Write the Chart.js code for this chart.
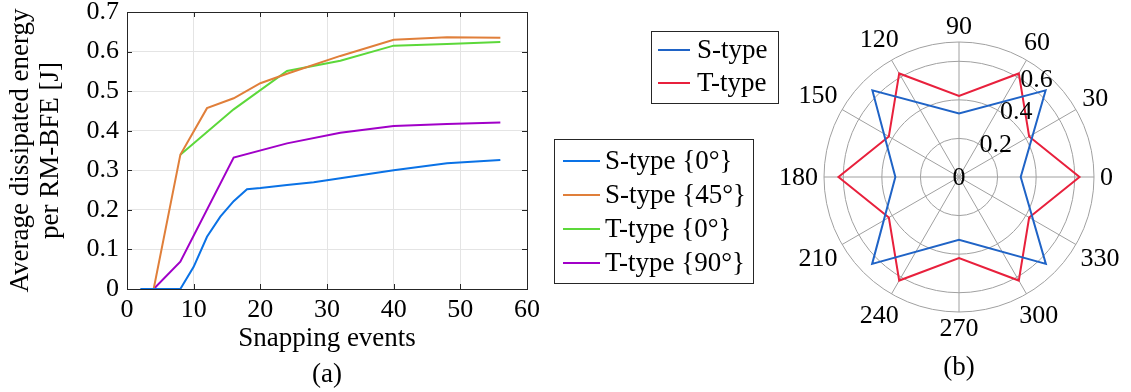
<!DOCTYPE html>
<html>
<head>
<meta charset="utf-8">
<script src="https://cdn.jsdelivr.net/npm/chart.js@4.4.1/dist/chart.umd.min.js"></script>
<style>
  html, body { margin: 0; padding: 0; background: #fff; }
  #wrap { position: relative; width: 1131px; height: 392px; overflow: hidden; }
  #chartA { position: absolute; left: 0; top: 0; }
  #chartB { position: absolute; left: 640px; top: 0; }
</style>
</head>
<body>
<div id="wrap">
  <canvas id="chartA" width="760" height="392"></canvas>
  <canvas id="chartB" width="491" height="392"></canvas>
</div>
<script>
// ---- (a) energy vs snapping events ----
const sType0X  = [2, 4, 8, 10, 12, 14, 16, 18, 20, 24, 28, 32, 40, 48, 56];
const sType0Y  = [0, 0, 0, 0.056, 0.132, 0.183, 0.222, 0.252, 0.255, 0.263, 0.270, 0.280, 0.300, 0.318, 0.326];
const sType45X = [4, 8, 12, 16, 20, 24, 32, 40, 48, 56];
const sType45Y = [0, 0.339, 0.457, 0.482, 0.520, 0.544, 0.589, 0.630, 0.636, 0.635];
const tType0X  = [8, 16, 24, 32, 40, 48, 56];
const tType0Y  = [0.339, 0.454, 0.551, 0.577, 0.615, 0.619, 0.624];
const tType90X = [4, 8, 16, 24, 32, 40, 48, 56];
const tType90Y = [0, 0.069, 0.332, 0.368, 0.395, 0.412, 0.417, 0.421];
const seriesA  = ['S-type {0°}', 'S-type {45°}', 'T-type {0°}', 'T-type {90°}'];

// ---- (b) polar plot ----
// category order follows the radar's clockwise sweep starting at 0 deg (right)
const polarAngles = [0, 345, 330, 315, 300, 285, 270, 255, 240, 225, 210, 195,
                     180, 165, 150, 135, 120, 105, 90, 75, 60, 45, 30, 15];
const angleTicks  = [0, 30, 60, 90, 120, 150, 180, 210, 240, 270, 300, 330];
const radialTicks = [0, 0.2, 0.4, 0.6];
const sAngles = [0, 45, 90, 135, 180, 225, 270, 315];
const sRadius = [0.32, 0.635, 0.33, 0.635, 0.33, 0.637, 0.326, 0.637];
const tAngles = [0, 30, 60, 90, 120, 150, 180, 210, 240, 270, 300, 330];
const tRadius = [0.625, 0.42, 0.62, 0.42, 0.62, 0.42, 0.625, 0.42, 0.62, 0.42, 0.62, 0.42];
const seriesB = ['S-type', 'T-type'];

const FONT = "'Liberation Serif', 'Times New Roman', serif";
Chart.defaults.font.family = FONT;
Chart.defaults.color = '#000';
Chart.defaults.animation = false;

const colorsA = ['#0a72e6', '#e07f3a', '#5cd83a', '#a100c8'];
const colorsB = ['#1f63c6', '#e8203c'];

function pts(xs, ys) { return xs.map((x, i) => ({ x: x, y: ys[i] })); }
function onAngles(angles, radius) {
  return polarAngles.map(a => { const k = angles.indexOf(a); return k < 0 ? null : radius[k]; });
}

// legend with a thin frame, like the matlab one
function framedLegend(id, box, rows, lineX0, lineX1, textX) {
  return {
    id: id,
    afterDraw(chart) {
      const ctx = chart.ctx;
      ctx.save();
      ctx.fillStyle = '#fff';
      ctx.fillRect(box.x, box.y, box.w, box.h);
      ctx.strokeStyle = '#262626';
      ctx.lineWidth = 1;
      ctx.strokeRect(box.x + 0.5, box.y + 0.5, box.w, box.h);
      ctx.font = '27px ' + FONT;
      ctx.textAlign = 'left';
      ctx.textBaseline = 'middle';
      chart.data.datasets.forEach((ds, i) => {
        const y = rows[i];
        ctx.strokeStyle = ds.borderColor;
        ctx.lineWidth = 2;
        ctx.beginPath();
        ctx.moveTo(lineX0, y);
        ctx.lineTo(lineX1, y);
        ctx.stroke();
        ctx.fillStyle = '#000';
        ctx.fillText(ds.label, textX, y + 1);
      });
      ctx.restore();
    }
  };
}

// box around the axes with inward tick marks
const axesBox = {
  id: 'axesBox',
  beforeDatasetsDraw(chart) {
    const { ctx, chartArea: a, scales: { x, y } } = chart;
    const tl = 5;
    ctx.save();
    ctx.strokeStyle = '#262626';
    ctx.lineWidth = 1;
    ctx.beginPath();
    x.ticks.forEach(t => {
      const px = Math.round(x.getPixelForValue(t.value)) + 0.5;
      ctx.moveTo(px, a.bottom); ctx.lineTo(px, a.bottom - tl);
      ctx.moveTo(px, a.top); ctx.lineTo(px, a.top + tl);
    });
    y.ticks.forEach(t => {
      const py = Math.round(y.getPixelForValue(t.value)) + 0.5;
      ctx.moveTo(a.left, py); ctx.lineTo(a.left + tl, py);
      ctx.moveTo(a.right, py); ctx.lineTo(a.right - tl, py);
    });
    ctx.stroke();
    ctx.strokeRect(Math.round(a.left) + 0.5, Math.round(a.top) + 0.5,
                   Math.round(a.right - a.left), Math.round(a.bottom - a.top));
    ctx.restore();
  }
};

new Chart(document.getElementById('chartA'), {
  type: 'line',
  data: {
    datasets: [
      { label: seriesA[0], data: pts(sType0X, sType0Y),   borderColor: colorsA[0] },
      { label: seriesA[1], data: pts(sType45X, sType45Y), borderColor: colorsA[1] },
      { label: seriesA[2], data: pts(tType0X, tType0Y),   borderColor: colorsA[2] },
      { label: seriesA[3], data: pts(tType90X, tType90Y), borderColor: colorsA[3] }
    ]
  },
  options: {
    responsive: false,
    animation: false,
    layout: { padding: { left: 4, right: 233, top: 12, bottom: 0 } },
    elements: { line: { borderWidth: 2, tension: 0, fill: false }, point: { radius: 0 } },
    plugins: { legend: { display: false }, tooltip: { enabled: false } },
    scales: {
      x: {
        type: 'linear', min: 0, max: 60,
        ticks: { stepSize: 10, padding: 6, maxRotation: 0, font: { size: 26 } },
        grid: { color: '#e4e4e4', drawTicks: false },
        border: { display: false },
        title: { display: true, text: ['Snapping events', '(a)'], font: { size: 27, lineHeight: 1.3 }, padding: 0 },
        afterFit: s => { s.height = 103; s.paddingLeft = 0; s.paddingRight = 0; }
      },
      y: {
        min: 0, max: 0.7,
        ticks: { stepSize: 0.1, padding: 8, font: { size: 26 }, callback: v => String(Math.round(v * 10) / 10) },
        grid: { color: '#e4e4e4', drawTicks: false },
        border: { display: false },
        title: { display: true, text: ['Average dissipated energy', 'per RM-BFE [J]'], font: { size: 27, lineHeight: 1.12 }, padding: { top: 2, bottom: 0 } },
        afterFit: s => { s.width = 123; s.paddingTop = 0; s.paddingBottom = 0; }
      }
    }
  },
  plugins: [axesBox, framedLegend('legendA', { x: 554, y: 139, w: 199, h: 144 }, [161, 195, 229, 263], 563, 600, 605)]
});

// angle labels around the rim and radius labels on a ray
const polarText = {
  id: 'polarText',
  afterDraw(chart) {
    const r = chart.scales.r;
    const ctx = chart.ctx;
    ctx.save();
    ctx.font = '26px ' + FONT;
    ctx.fillStyle = '#000';
    ctx.textAlign = 'center';
    ctx.textBaseline = 'middle';
    chart.data.labels.forEach((lab, i) => {
      if (!angleTicks.includes(lab)) return;
      const text = String(lab);
      const w = ctx.measureText(text).width, h = 20;
      const dir = r.getPointPosition(i, r.drawingArea).angle;
      const d = r.drawingArea + 6 + Math.abs(Math.cos(dir)) * w / 2 + Math.abs(Math.sin(dir)) * h / 2;
      const p = r.getPointPosition(i, d);
      ctx.fillText(text, p.x, p.y + 1);
    });
    const ray = 58 * Math.PI / 180;
    radialTicks.forEach(v => {
      const d = r.getDistanceFromCenterForValue(v);
      if (v === 0) {
        ctx.textAlign = 'center';
        ctx.fillText('0', r.xCenter, r.yCenter + 1);
      } else {
        ctx.textAlign = 'left';
        ctx.fillText(String(v), r.xCenter + d * Math.cos(ray), r.yCenter - d * Math.sin(ray) + 1);
      }
    });
    ctx.restore();
  }
};

new Chart(document.getElementById('chartB'), {
  type: 'radar',
  data: {
    labels: polarAngles,
    datasets: [
      { label: seriesB[0], data: onAngles(sAngles, sRadius), borderColor: colorsB[0] },
      { label: seriesB[1], data: onAngles(tAngles, tRadius), borderColor: colorsB[1] }
    ]
  },
  options: {
    responsive: false,
    animation: false,
    layout: { padding: { left: 184, right: 37, top: 42, bottom: 8 } },
    elements: { line: { borderWidth: 2, tension: 0, fill: false }, point: { radius: 0 } },
    datasets: { radar: { spanGaps: true } },
    plugins: {
      legend: { display: false },
      tooltip: { enabled: false },
      title: { display: true, position: 'bottom', text: '(b)', color: '#000',
               font: { size: 27, weight: 'normal', lineHeight: 1.2 }, padding: { top: 39.6, bottom: 0 } }
    },
    scales: {
      r: {
        min: 0, max: 0.7,
        startAngle: 90,
        ticks: { display: false, stepSize: 0.2 },
        pointLabels: { display: false },
        grid: { circular: true, color: '#a0a0a0', lineWidth: 1 },
        angleLines: { color: '#a0a0a0', lineWidth: c => (c.index % 2 === 0 ? 1 : 0) }
      }
    }
  },
  plugins: [polarText, framedLegend('legendB', { x: 11, y: 31, w: 127, h: 72 }, [50, 83], 18, 50, 57)]
});
</script>
</body>
</html>
